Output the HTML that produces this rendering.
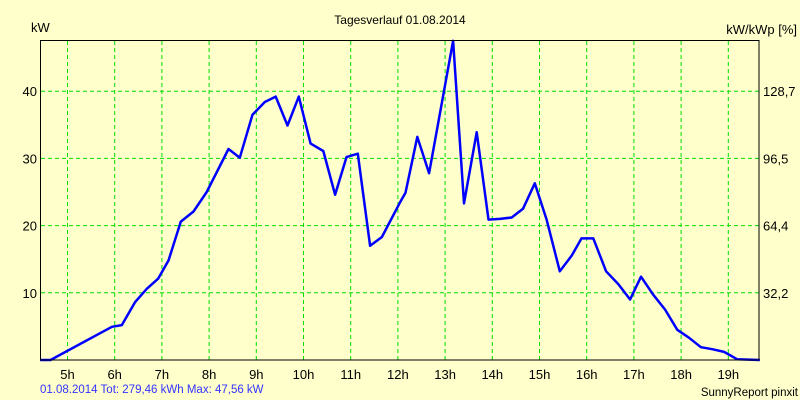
<!DOCTYPE html>
<html><head><meta charset="utf-8"><style>
html,body{margin:0;padding:0;background:#ffffcc;}
svg{display:block;font-family:"Liberation Sans",sans-serif;}
</style></head><body>
<svg id="chart" width="800" height="400" viewBox="0 0 800 400">
<rect x="0" y="0" width="800" height="400" fill="#ffffcc"/>
<text x="400" y="24" text-anchor="middle" font-size="12" fill="#000">Tagesverlauf 01.08.2014</text>
<text x="31" y="32" font-size="13" fill="#000">kW</text>
<text x="797" y="34" text-anchor="end" font-size="13" fill="#000">kW/kWp [%]</text>
<g id="grid"></g>
<g id="ticks"></g>
<path id="line" fill="none" stroke="#0000ff" stroke-width="2.5" stroke-linejoin="round"/>
<rect x="40.5" y="40.5" width="718.5" height="319.5" fill="none" stroke="#000" stroke-width="1"/>
<text x="40" y="393" font-size="11.5" fill="#3333ff">01.08.2014 Tot: 279,46 kWh Max: 47,56 kW</text>
<text x="798" y="396" text-anchor="end" font-size="11.5" fill="#000">SunnyReport pinxit</text>
</svg>
<script>
const times=[4.42,4.64,5.94,6.15,6.43,6.68,6.92,7.14,7.40,7.67,7.95,8.41,8.65,8.92,9.18,9.41,9.66,9.90,10.15,10.42,10.67,10.91,11.15,11.41,11.66,12.04,12.16,12.41,12.66,13.17,13.40,13.67,13.92,14.16,14.41,14.65,14.90,15.15,15.43,15.68,15.89,16.14,16.41,16.67,16.92,17.15,17.41,17.66,17.92,18.17,18.42,18.66,18.91,19.19,19.67];
const power=[0,0,4.94,5.2,8.6,10.6,12.1,14.8,20.6,22.1,25.0,31.4,30.1,36.5,38.4,39.2,34.9,39.2,32.2,31.1,24.6,30.2,30.7,17.0,18.3,23.4,24.9,33.2,27.8,47.5,23.3,33.9,20.9,21.0,21.2,22.5,26.3,20.9,13.2,15.5,18.1,18.1,13.2,11.3,9.0,12.4,9.7,7.5,4.5,3.3,1.9,1.6,1.2,0.1,0];
const hourTicks=[5,6,7,8,9,10,11,12,13,14,15,16,17,18,19];
const leftTicks=[10,20,30,40];
const rightLabels=["32,2","64,4","96,5","128,7"];
const NS="http://www.w3.org/2000/svg";
const xs=t=>67.5+(t-5)*47.2;
const ys=v=>360-v*6.72;
const grid=document.getElementById('grid'),ticks=document.getElementById('ticks');
function mk(tag,attrs,parent){const e=document.createElementNS(NS,tag);for(const k in attrs)e.setAttribute(k,attrs[k]);parent.appendChild(e);return e;}
hourTicks.forEach(h=>{
  const x=xs(h);
  const l=mk('line',{x1:x,x2:x,y1:41,y2:360,stroke:'#00dd00','stroke-dasharray':'4,3','stroke-width':1},grid);
  
  
  const t=mk('text',{x:x,y:379,'text-anchor':'middle','font-size':13,fill:'#000'},ticks);
  t.textContent=h+'h';
  
  
});
leftTicks.forEach((v,i)=>{
  const y=ys(v);
  const l=mk('line',{x1:41,x2:759,y1:y,y2:y,stroke:'#00dd00','stroke-dasharray':'4,3','stroke-width':1},grid);
  
  
  const t=mk('text',{x:37,y:y+5,'text-anchor':'end','font-size':13,fill:'#000'},ticks);
  t.textContent=v;
  
  
  const r=mk('text',{x:763,y:y+5,'font-size':13,fill:'#000'},ticks);
  r.textContent=rightLabels[i];
  
  
});
document.getElementById('line').setAttribute('d',times.map((t,i)=>(i?'L':'M')+xs(t).toFixed(1)+','+ys(power[i]).toFixed(1)).join(' '));
</script>
</body></html>
